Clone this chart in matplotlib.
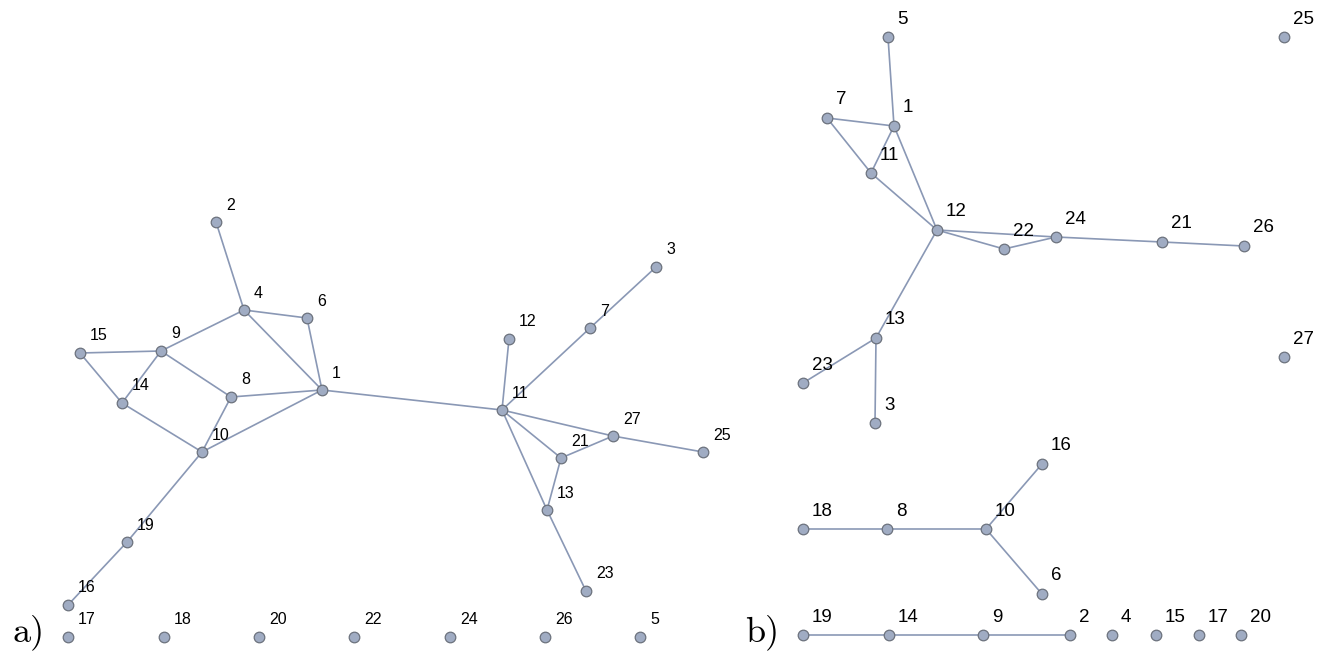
import matplotlib
matplotlib.use("Agg")
import matplotlib.pyplot as plt

# ---- Graph a) : node ids and layout positions (canvas units, y downward) ----
a_ids = [1, 2, 3, 4, 5, 6, 7, 8, 9, 10, 11, 12, 13, 14, 15, 16, 17, 18, 19,
         20, 21, 22, 23, 24, 25, 26, 27]
a_x = [322, 216, 656, 244, 640, 307, 590, 231, 161, 202, 502, 509, 547, 122,
       80, 68, 68, 164, 127, 259, 561, 354, 586, 450, 703, 545, 613]
a_y = [390, 222, 267, 310, 637, 318, 328, 397, 351, 452, 410, 339, 510, 403,
       353, 605, 637, 637, 542, 637, 458, 637, 591, 637, 452, 637, 436]
a_edges = [(2, 4), (4, 6), (4, 1), (6, 1), (4, 9), (9, 15), (9, 8), (15, 14),
           (14, 9), (14, 10), (8, 1), (8, 10), (10, 1), (10, 19), (19, 16),
           (1, 11), (11, 12), (11, 7), (7, 3), (11, 27), (27, 25), (11, 21),
           (27, 21), (11, 13), (21, 13), (13, 23)]

# ---- Graph b) ----
b_ids = [1, 3, 5, 7, 11, 12, 13, 21, 22, 23, 24, 25, 26, 27, 16, 18, 8, 10, 6,
         19, 14, 9, 2, 4, 15, 17, 20]
b_x = [894, 875, 888, 827, 871, 937, 876, 1162, 1004, 803, 1056, 1284, 1244,
       1284, 1042, 803, 887, 986, 1042, 803, 889, 983, 1070, 1112, 1156, 1199,
       1241]
b_y = [126, 423, 37, 118, 173, 230, 338, 242, 249, 383, 237, 37, 246, 357,
       464, 529, 529, 529, 594, 635, 635, 635, 635, 635, 635, 635, 635]
b_edges = [(5, 1), (7, 1), (7, 11), (11, 1), (1, 12), (11, 12), (12, 22),
           (12, 24), (22, 24), (24, 21), (21, 26), (12, 13), (13, 23),
           (13, 3), (18, 8), (8, 10), (10, 16), (10, 6), (19, 14), (14, 9),
           (9, 2)]

EDGE_COLOR = "#8a98b5"
NODE_FACE = "#a0acc3"
NODE_EDGE = "#6c727d"

W, H = 1327, 651
fig = plt.figure(figsize=(W / 100, H / 100), dpi=100)
ax = fig.add_axes([0, 0, 1, 1])
ax.set_xlim(0, W)
ax.set_ylim(H, 0)
ax.axis("off")


def draw_graph(ids, xs, ys, edges, fontsize, dx, dy):
    pos = {n: (x, y) for n, x, y in zip(ids, xs, ys)}
    for u, v in edges:
        (x0, y0), (x1, y1) = pos[u], pos[v]
        ax.plot([x0, x1], [y0, y1], color=EDGE_COLOR, lw=1.2, zorder=1,
                solid_capstyle="round")
    ax.scatter(xs, ys, s=58, facecolor=NODE_FACE, edgecolor=NODE_EDGE,
               linewidths=0.9, zorder=3)
    for n, x, y in zip(ids, xs, ys):
        ax.text(x + dx, y + dy, str(n), fontsize=fontsize, ha="left",
                va="center", family="Liberation Sans", color="black",
                zorder=4)


draw_graph(a_ids, a_x, a_y, a_edges, 11.5, 10, -17)
draw_graph(b_ids, b_x, b_y, b_edges, 13.5, 9, -18)

ax.text(13, 641, "a)", fontsize=26, family="cmr10", ha="left",
        va="baseline")
ax.text(745, 641, "b)", fontsize=26, family="cmr10", ha="left",
        va="baseline")

fig.savefig("out.png", dpi=100, facecolor="white")
